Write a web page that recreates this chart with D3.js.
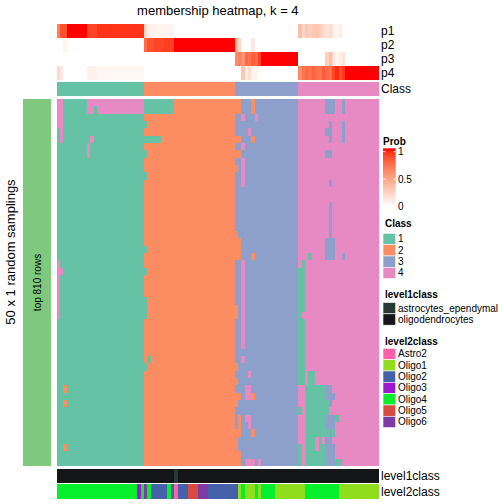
<!DOCTYPE html>
<html><head><meta charset="utf-8">
<script src="https://cdn.jsdelivr.net/npm/d3@7"></script>
<style>
body{margin:0;background:#fff}
svg{display:block}
text{font-family:"Liberation Sans",Arial,Helvetica,sans-serif;fill:#000}
</style>
</head><body><svg id="chart" width="504" height="504"></svg>
<script>
// ---------------- DATA ----------------
const chartTitle = "membership heatmap, k = 4";
const nColumns = 96;
const classCodes = ["1", "2", "3", "4"];
const classColors = ["#66C2A5", "#FC8D62", "#8DA0CB", "#E78AC3"];
// consensus class of each column (run-length: class:count)
const consensusRuns = "1:26 2:27 3:19 4:24";
// class predicted in each of the 50 random samplings (run-length per row)
const samplingRuns = [
  "4:2 1:7 4:17 1:9 2:20 3:3 2:1 3:13 4:8 3:3 4:2 3:1 4:10",
  "4:2 1:7 4:2 1:1 4:14 1:9 2:20 3:3 2:1 3:13 4:8 3:3 4:2 3:1 4:10",
  "4:2 1:24 2:27 3:2 4:1 3:3 4:1 3:12 4:24",
  "4:2 1:24 1:1 2:26 3:19 4:9 3:1 4:3 3:1 4:10",
  "1:1 4:1 1:24 2:27 3:4 4:1 3:14 4:8 3:2 4:3 3:1 4:10",
  "1:1 4:1 1:8 4:1 1:15 1:5 2:22 2:2 3:3 2:1 3:13 4:9 3:1 4:3 3:1 4:10",
  "1:9 4:1 1:16 2:27 3:2 4:1 3:16 4:24",
  "1:9 4:1 1:16 1:1 2:26 2:2 3:17 4:8 3:2 4:14",
  "1:26 2:27 3:2 4:1 3:16 4:24",
  "1:26 2:27 2:1 3:1 4:1 3:16 4:24",
  "1:26 1:1 2:26 3:2 4:1 3:16 4:24",
  "1:26 2:27 3:2 4:1 3:16 4:9 3:1 4:14",
  "1:26 2:27 3:19 4:24",
  "1:26 2:27 3:19 4:24",
  "1:26 2:27 3:19 4:9 3:1 4:14",
  "1:26 2:27 3:19 4:9 3:1 4:14",
  "1:26 2:27 3:19 4:9 3:1 4:14",
  "1:26 2:27 3:19 4:9 3:1 4:14",
  "1:26 2:27 2:1 3:18 4:9 3:1 4:14",
  "1:26 2:27 2:2 3:17 4:8 3:3 4:13",
  "1:26 1:1 2:26 2:2 3:17 4:8 3:3 4:13",
  "1:26 2:27 2:2 3:3 2:1 3:13 4:3 1:1 4:4 3:3 4:2 3:1 4:10",
  "4:1 1:25 2:27 3:2 4:1 3:16 4:1 1:1 4:22",
  "4:2 1:24 1:1 2:26 3:2 4:1 3:16 1:2 4:22",
  "4:1 1:25 2:27 3:2 4:1 3:16 1:2 4:22",
  "4:1 1:25 2:27 3:2 4:1 3:16 1:2 4:22",
  "4:1 1:25 2:27 3:2 4:1 3:16 1:2 4:22",
  "4:1 1:25 1:1 2:26 3:2 4:1 3:16 1:2 4:22",
  "4:1 1:25 1:1 2:26 2:1 3:1 4:1 3:16 1:2 4:22",
  "4:1 1:25 1:1 2:26 2:1 3:1 4:1 3:16 1:1 4:23",
  "1:26 2:27 3:2 4:1 3:16 1:2 4:22",
  "1:26 2:27 3:2 4:1 3:16 1:2 4:22",
  "1:26 2:27 3:2 4:1 3:16 1:2 4:22",
  "1:26 2:27 3:2 4:1 3:16 1:2 4:22",
  "1:26 2:27 3:19 1:2 4:22",
  "1:26 2:1 1:1 2:25 3:2 4:1 3:16 1:2 4:22",
  "1:26 1:1 2:26 2:1 3:18 1:2 4:22",
  "1:26 2:27 3:4 4:1 3:14 1:2 4:1 1:2 4:19",
  "1:26 2:27 2:1 3:18 1:2 4:1 1:2 4:19",
  "1:2 2:1 1:23 2:27 3:3 4:2 3:14 4:2 1:6 3:2 4:14",
  "1:26 2:27 2:2 3:1 4:2 2:1 3:13 4:2 1:6 3:3 4:13",
  "1:2 2:1 1:23 2:27 2:1 3:18 4:2 1:7 3:1 4:14",
  "1:26 2:27 3:19 1:1 4:1 1:7 4:15",
  "1:26 2:27 3:1 2:1 3:1 4:2 3:14 4:2 1:6 3:3 1:1 4:12",
  "1:26 2:27 3:1 2:1 3:2 4:1 3:14 4:2 1:6 3:3 4:13",
  "1:26 2:27 2:2 3:3 2:1 3:13 4:2 1:7 3:1 1:1 4:13",
  "1:26 2:27 2:1 3:18 4:2 1:3 4:1 1:1 4:1 3:2 4:14",
  "1:2 2:1 1:23 2:27 2:1 3:18 1:1 4:1 1:3 4:1 1:2 3:3 4:13",
  "1:26 2:27 2:2 3:17 1:1 4:1 1:6 3:3 4:13",
  "1:26 2:27 2:2 3:1 4:3 3:1 4:1 3:11 1:1 4:1 1:6 3:3 1:2 4:11"
];
// membership probabilities per column, split by consensus class block
const probNames = ["p1", "p2", "p3", "p4"];
const p1 = [].concat(
  [0.65,0.85,0.85,1,1,1,1,1,1,0.88, 0.88,0.88,0.93,0.93,0.93,0.93,0.93,0.93,0.93,0.93, 0.93,0.93,0.93,0.93,0.93,0.93],
  [0.2,0.08,0.08,0.06,0.06,0.06,0.06,0.06,0.06,0, 0,0,0,0,0,0,0,0,0,0, 0,0,0,0,0,0,0],
  [0,0,0,0,0,0,0,0,0,0, 0,0,0,0,0,0,0,0,0],
  [0.35,0.2,0.3,0.25,0.3,0.3,0.25,0.2,0.15,0.2, 0.1,0.05,0.1,0.02,0,0,0,0,0,0, 0,0,0,0]);
const p2 = [].concat(
  [0,0,0.06,0,0,0,0,0,0,0, 0,0,0,0,0,0,0,0,0,0, 0,0,0,0,0,0],
  [0.75,0.85,0.85,0.88,0.88,0.88,0.9,0.9,0.9,1, 1,1,1,1,1,1,1,1,1,1, 1,1,1,1,1,1,1],
  [0.4,0.2,0,0,0,0.12,0,0,0,0, 0,0,0,0,0,0,0,0,0],
  [0,0,0,0,0,0,0,0,0,0, 0,0,0,0,0,0,0,0,0,0, 0,0,0,0]);
const p3 = [].concat(
  [0,0,0,0,0,0,0,0,0,0, 0,0,0,0,0,0,0,0,0,0, 0,0,0,0,0,0],
  [0,0,0,0,0,0,0,0,0,0, 0,0,0,0,0,0,0,0,0,0, 0,0,0,0,0,0,0],
  [0.6,0.65,0.55,0.75,0.72,0.8,0.72,0.9,1,1, 1,1,1,1,1,1,1,1,1],
  [0,0,0,0,0,0,0,0,0.25,0.35, 0.15,0.05,0.1,0.15,0,0,0,0,0,0, 0,0,0,0]);
const p4 = [].concat(
  [0.2,0.12,0,0,0,0,0,0,0,0.07, 0.07,0.07,0.04,0.04,0.04,0.04,0.04,0.04,0.04,0.04, 0.04,0.04,0.04,0.04,0.04,0.04],
  [0,0,0,0,0,0,0,0,0,0, 0,0,0,0,0,0,0,0,0,0, 0,0,0,0,0,0,0],
  [0,0,0.3,0.08,0.18,0.05,0.05,0,0,0, 0,0,0,0,0,0,0,0,0],
  [0.6,0.7,0.75,0.72,0.78,0.72,0.7,0.8,0.75,0.7, 0.88,0.95,0.85,0.92,1,1,1,1,1,1, 1,1,1,1]);
const probTicks = [0, 0.5, 1];
// sample annotations
const level1Names = ["astrocytes_ependymal", "oligodendrocytes"];
const level1Colors = ["#263A33", "#131517"];
const level1Runs = "oligodendrocytes:35 astrocytes_ependymal:1 oligodendrocytes:60";
const level2Names = ["Astro2", "Oligo1", "Oligo2", "Oligo3", "Oligo4", "Oligo5", "Oligo6"];
const level2Colors = ["#FF5EAA", "#8FDD1C", "#4461A9", "#9A18CF", "#05EF2C", "#D94A42", "#7E3BA3"];
const level2Runs = "Oligo4:24 Oligo3:1 Oligo4:1 Oligo6:1 Oligo4:1 Oligo2:5 Oligo4:1 Oligo2:1 Astro2:1 Oligo2:3 Oligo5:3 Oligo6:3 Oligo2:9 Oligo1:1 Oligo4:1 Oligo1:3 Oligo4:1 Oligo1:1 Oligo4:4 Oligo1:9 Oligo4:10 Oligo1:12";
const rowGroupLabel = "top 810 rows";
const rowTitle = "50 x 1 random samplings";

// ---------------- HELPERS ----------------
function decodeRuns(s) {
  const out = [];
  s.trim().split(/\s+/).forEach(tok => {
    const i = tok.lastIndexOf(":");
    const v = tok.slice(0, i), n = +tok.slice(i + 1);
    for (let k = 0; k < n; k++) out.push(v);
  });
  return out;
}
const matrix = samplingRuns.map(decodeRuns);
matrix.forEach((r, i) => { if (r.length !== nColumns) console.error("row", i, r.length); });
const consensus = decodeRuns(consensusRuns);
const level1 = decodeRuns(level1Runs);
const level2 = decodeRuns(level2Runs);
const probs = [p1, p2, p3, p4];

// ---------------- SCALES ----------------
const svg = d3.select("#chart");
const x = d3.scaleBand().domain(d3.range(nColumns)).range([56.7, 379]);
const yMain = d3.scaleBand().domain(d3.range(matrix.length)).range([99, 466]);
const yProb = d3.scaleBand().domain(probNames).range([24, 80]);
const classColor = d3.scaleOrdinal().domain(classCodes).range(classColors);
const probColor = d3.scaleLinear().domain([0, 1]).range(["#FFFFFF", "#FF0000"]).interpolate(d3.interpolateLab);
const l1Color = d3.scaleOrdinal().domain(level1Names).range(level1Colors);
const l2Color = d3.scaleOrdinal().domain(level2Names).range(level2Colors);

const g = svg.append("g").attr("shape-rendering", "crispEdges");

// title
svg.append("text").attr("x", (x.range()[0] + x.range()[1]) / 2).attr("y", 15)
  .attr("text-anchor", "middle").attr("font-size", 13).text(chartTitle);

// probability rows
probNames.forEach((name, pi) => {
  g.append("g").selectAll("rect").data(probs[pi]).join("rect")
    .attr("x", (d, i) => x(i)).attr("width", x.bandwidth() + 0.3)
    .attr("y", yProb(name)).attr("height", yProb.bandwidth())
    .attr("fill", d => probColor(d));
  svg.append("text").attr("x", 381).attr("y", yProb(name) + yProb.bandwidth() / 2)
    .attr("dominant-baseline", "central").attr("font-size", 12).text(name);
});

// class annotation row
g.append("g").selectAll("rect").data(consensus).join("rect")
  .attr("x", (d, i) => x(i)).attr("width", x.bandwidth() + 0.3)
  .attr("y", 82).attr("height", 14).attr("fill", d => classColor(d));
svg.append("text").attr("x", 381).attr("y", 89).attr("dominant-baseline", "central")
  .attr("font-size", 12).text("Class");

// main heatmap
const rowsG = g.append("g").selectAll("g").data(matrix).join("g")
  .attr("transform", (d, i) => `translate(0,${yMain(i)})`);
rowsG.selectAll("rect").data(d => d).join("rect")
  .attr("x", (d, i) => x(i)).attr("width", x.bandwidth() + 0.3)
  .attr("y", 0).attr("height", yMain.bandwidth() + 0.3)
  .attr("fill", d => classColor(d));

// left row-group bar
g.append("rect").attr("x", 22.7).attr("width", 28).attr("y", yMain.range()[0])
  .attr("height", yMain.range()[1] - yMain.range()[0]).attr("fill", "#7FC97F");
svg.append("text").attr("transform", `translate(37,${(yMain.range()[0] + yMain.range()[1]) / 2}) rotate(-90)`)
  .attr("text-anchor", "middle").attr("dominant-baseline", "central").attr("font-size", 10).text(rowGroupLabel);
svg.append("text").attr("transform", `translate(10.5,252) rotate(-90)`)
  .attr("text-anchor", "middle").attr("dominant-baseline", "central").attr("font-size", 13).text(rowTitle);

// bottom annotations
g.append("g").selectAll("rect").data(level1).join("rect")
  .attr("x", (d, i) => x(i)).attr("width", x.bandwidth() + 0.3)
  .attr("y", 469).attr("height", 14).attr("fill", d => l1Color(d));
g.append("g").selectAll("rect").data(level2).join("rect")
  .attr("x", (d, i) => x(i)).attr("width", x.bandwidth() + 0.3)
  .attr("y", 484).attr("height", 15).attr("fill", d => l2Color(d));
svg.append("text").attr("x", 381).attr("y", 476).attr("dominant-baseline", "central").attr("font-size", 12).text("level1class");
svg.append("text").attr("x", 381).attr("y", 492).attr("dominant-baseline", "central").attr("font-size", 12).text("level2class");

// ---------------- LEGENDS ----------------
const lx = 383, sw = 12.7, step = 11.33;
// Prob
svg.append("text").attr("x", lx).attr("y", 145).attr("font-size", 10).attr("font-weight", "bold").text("Prob");
const grad = svg.append("defs").append("linearGradient").attr("id", "pg")
  .attr("x1", 0).attr("y1", 1).attr("x2", 0).attr("y2", 0);
d3.range(0, 1.01, 0.1).forEach(t => grad.append("stop").attr("offset", t).attr("stop-color", probColor(t)));
const yLeg = d3.scaleLinear().domain([0, 1]).range([206.5, 151.7]);
svg.append("rect").attr("x", lx).attr("width", sw).attr("y", yLeg(1) - 3.4)
  .attr("height", yLeg(0) - yLeg(1) + 3.4).attr("fill", "url(#pg)");
probTicks.forEach(t => {
  if (t > 0) {
    svg.append("line").attr("x1", lx).attr("x2", lx + 2.5).attr("y1", yLeg(t)).attr("y2", yLeg(t)).attr("stroke", "#fff").attr("stroke-width", 0.8);
    svg.append("line").attr("x1", lx + sw - 2.5).attr("x2", lx + sw).attr("y1", yLeg(t)).attr("y2", yLeg(t)).attr("stroke", "#fff").attr("stroke-width", 0.8);
  }
  svg.append("text").attr("x", lx + 15).attr("y", yLeg(t)).attr("dominant-baseline", "central")
    .attr("font-size", 10).text(t);
});

function discreteLegend(title, titleY, names, colors, top) {
  svg.append("text").attr("x", lx + 2).attr("y", titleY).attr("font-size", 10).attr("font-weight", "bold").text(title);
  names.forEach((n, i) => {
    svg.append("rect").attr("x", lx).attr("y", top + i * step).attr("width", sw).attr("height", step)
      .attr("fill", colors[i]).attr("stroke", "#fff").attr("stroke-width", 0.6);
    svg.append("text").attr("x", lx + 15).attr("y", top + i * step + step / 2)
      .attr("dominant-baseline", "central").attr("font-size", 10).text(n);
  });
}
discreteLegend("Class", 227, classCodes, classColors, 233.3);
discreteLegend("level1class", 298, level1Names, level1Colors, 302.5);
discreteLegend("level2class", 344.5, level2Names, level2Colors, 348.3);
</script>
</body></html>
